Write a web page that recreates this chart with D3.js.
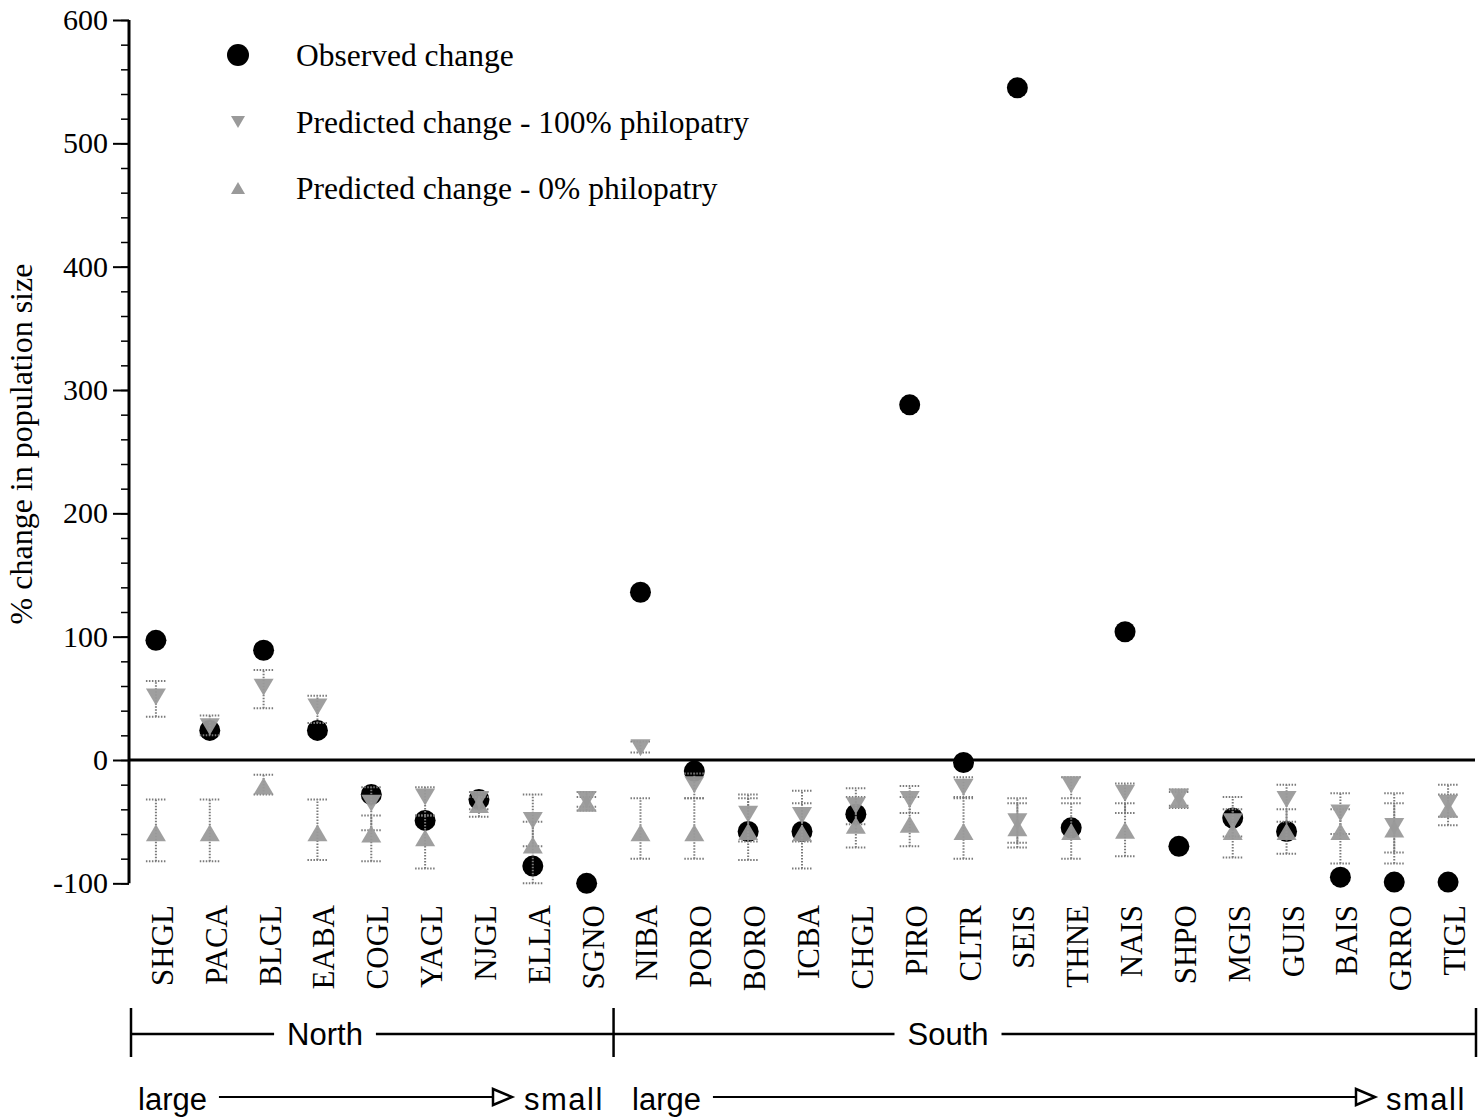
<!DOCTYPE html>
<html>
<head>
<meta charset="utf-8">
<script src="https://cdn.jsdelivr.net/npm/d3@7"></script>
<style>
  body { margin: 0; background: #fff; }
  svg { display: block; }
</style>
</head>
<body>
<div id="chart"></div>
<script>
// colonies, ordered by region and size
var categories = ["SHGL", "PACA", "BLGL", "EABA", "COGL", "YAGL", "NJGL", "ELLA", "SGNO",
                  "NIBA", "PORO", "BORO", "ICBA", "CHGL", "PIRO", "CLTR", "SEIS", "THNE",
                  "NAIS", "SHPO", "MGIS", "GUIS", "BAIS", "GRRO", "TIGL"];

var observed = [97, 24, 89, 24, -28, -49, -32, -86, -100,
                136, -9, -58, -58, -44, 288, -2, 545, -55,
                104, -70, -47, -58, -95, -99, -99];

// predicted change, 100% philopatry (mean, low, high)
var pred100   = [51, 27, 59, 43, -35, -30, -32, -49, -32,
                 10, -20, -44, -45, -37, -32, -22, -50, -20,
                 -27, -30, -50, -32, -43, -54, -35];
var pred100Lo = [35, 20, 42, 30, -57, -45, -40, -70, -38,
                 6, -31, -66, -66, -52, -43, -31, -67, -31,
                 -43, -37, -62, -50, -60, -75, -46];
var pred100Hi = [64, 36, 73, 52, -22, -22, -26, -28, -26,
                 15, -11, -28, -25, -23, -21, -14, -31, -14,
                 -19, -24, -30, -20, -27, -27, -20];

// predicted change, 0% philopatry (mean, low, high)
var pred0   = [-59, -59, -21, -59, -60, -63, -36, -69, -35,
               -59, -59, -58, -59, -53, -52, -58, -55, -58,
               -57, -32, -58, -58, -58, -56, -40];
var pred0Lo = [-82, -82, -28, -81, -82, -88, -46, -100, -41,
               -80, -80, -81, -88, -71, -70, -80, -71, -80,
               -78, -39, -79, -76, -84, -84, -53];
var pred0Hi = [-32, -32, -12, -32, -45, -45, -30, -50, -30,
               -31, -31, -31, -35, -30, -30, -30, -35, -35,
               -35, -26, -40, -40, -40, -35, -28];

var yMajor = [-100, 0, 100, 200, 300, 400, 500, 600];

var legendLabels = ["Observed change",
                    "Predicted change - 100% philopatry",
                    "Predicted change - 0% philopatry"];

var W = 1479, H = 1120;
var plotLeft = 129, plotRight = 1475, plotTop = 20, zeroY = 760;
var serif = "'Liberation Serif', 'Times New Roman', serif",
    sans = "'Liberation Sans', Arial, sans-serif";
var grey = "#9a9a9a";

var svg = d3.select("#chart").append("svg")
  .attr("width", W)
  .attr("height", H);

var x = d3.scaleBand()
  .domain(categories)
  .range([plotLeft, plotRight])
  .padding(0);

var y = d3.scaleLinear()
  .domain([-100, 600])
  .range([plotTop + (zeroY - plotTop) * 7 / 6, plotTop]);

// minor ticks
svg.append("g")
  .attr("transform", "translate(" + plotLeft + ",0)")
  .call(d3.axisLeft(y).tickValues(d3.range(-100, 601, 20)).tickSize(8).tickFormat(""))
  .call(function(g) {
    g.select(".domain").remove();
    g.selectAll("line").attr("stroke-width", 1.5);
  });

// major ticks and labels
svg.append("g")
  .attr("transform", "translate(" + plotLeft + ",0)")
  .call(d3.axisLeft(y).tickValues(yMajor).tickSize(16).tickPadding(5)
        .tickFormat(function(d) { return String(d); }))
  .call(function(g) {
    g.select(".domain").attr("stroke-width", 3).attr("d", "M0," + y(-100) + "V" + y(600));
    g.selectAll("line").attr("stroke-width", 2);
    g.selectAll("text")
      .style("font-family", serif)
      .style("font-size", "30px")
      .attr("fill", "#000");
  });

// zero line
svg.append("line")
  .attr("x1", plotLeft).attr("x2", plotRight)
  .attr("y1", y(0)).attr("y2", y(0))
  .attr("stroke", "#000")
  .attr("stroke-width", 3);

// y title
svg.append("text")
  .attr("transform", "translate(32,444) rotate(-90)")
  .attr("text-anchor", "middle")
  .style("font-family", serif)
  .style("font-size", "32px")
  .text("% change in population size");

// x labels
svg.append("g").selectAll("text")
  .data(categories)
  .enter().append("text")
  .attr("transform", function(d) {
    return "translate(" + (x(d) + x.bandwidth() / 2 + 17) + ",905) rotate(-90)";
  })
  .attr("text-anchor", "end")
  .style("font-family", serif)
  .style("font-size", "31px")
  .text(function(d) { return d; });

var cx = function(i) { return x(categories[i]) + x.bandwidth() / 2; };

function downTri(s) {
  return "M" + (-s) + "," + (-s * 0.85) + "L" + s + "," + (-s * 0.85) + "L0," + (s * 0.85) + "Z";
}
function upTri(s) {
  return "M" + (-s) + "," + (s * 0.85) + "L" + s + "," + (s * 0.85) + "L0," + (-s * 0.85) + "Z";
}

// observed change (drawn first, predicted markers sit on top)
svg.append("g").selectAll("circle")
  .data(observed)
  .enter().append("circle")
  .attr("cx", function(d, i) { return cx(i); })
  .attr("cy", function(d) { return y(d); })
  .attr("r", 10.5)
  .attr("fill", "#000");

function errorBars(lo, hi) {
  var g = svg.append("g")
    .attr("stroke", "#7a7a7a")
    .attr("stroke-width", 2)
    .attr("stroke-dasharray", "1.5,1.5")
    .attr("fill", "none");
  categories.forEach(function(c, i) {
    var xc = cx(i);
    g.append("line").attr("x1", xc).attr("x2", xc)
      .attr("y1", y(lo[i])).attr("y2", y(hi[i]));
    [lo[i], hi[i]].forEach(function(v) {
      g.append("line").attr("x1", xc - 10).attr("x2", xc + 10)
        .attr("y1", y(v)).attr("y2", y(v));
    });
  });
}

errorBars(pred100Lo, pred100Hi);
errorBars(pred0Lo, pred0Hi);

svg.append("g").selectAll("path")
  .data(pred100)
  .enter().append("path")
  .attr("transform", function(d, i) { return "translate(" + cx(i) + "," + y(d) + ")"; })
  .attr("d", downTri(10))
  .attr("fill", grey)
  .attr("opacity", 0.95);

svg.append("g").selectAll("path")
  .data(pred0)
  .enter().append("path")
  .attr("transform", function(d, i) { return "translate(" + cx(i) + "," + y(d) + ")"; })
  .attr("d", upTri(10))
  .attr("fill", grey)
  .attr("opacity", 0.95);

// legend
var legend = svg.append("g");
var legendY = [55, 122, 188];
legend.append("circle").attr("cx", 238).attr("cy", legendY[0]).attr("r", 11).attr("fill", "#000");
legend.append("path").attr("transform", "translate(238," + legendY[1] + ")").attr("d", downTri(7)).attr("fill", grey);
legend.append("path").attr("transform", "translate(238," + legendY[2] + ")").attr("d", upTri(7)).attr("fill", grey);
legend.selectAll("text")
  .data(legendLabels)
  .enter().append("text")
  .attr("x", 296)
  .attr("y", function(d, i) { return legendY[i]; })
  .attr("dy", "0.35em")
  .style("font-family", serif)
  .style("font-size", "31.5px")
  .text(function(d) { return d; });

// region bracket
var bracketY = 1034;
var regions = [
  {name: "North", x0: x("SHGL") + 2, x1: x("NIBA"), tx: 325},
  {name: "South", x0: x("NIBA"), x1: plotRight + 1, tx: 948}
];
var bg = svg.append("g").attr("stroke", "#000").attr("stroke-width", 2.5);
[regions[0].x0, regions[1].x0, regions[1].x1].forEach(function(v) {
  bg.append("line").attr("x1", v).attr("x2", v).attr("y1", 1008).attr("y2", 1057);
});
regions.forEach(function(r) {
  var t = svg.append("text")
    .attr("x", r.tx).attr("y", bracketY + 11)
    .attr("text-anchor", "middle")
    .style("font-family", sans)
    .style("font-size", "31px")
    .text(r.name);
  var half = t.node().getComputedTextLength() / 2 + 13;
  bg.append("line").attr("x1", r.x0).attr("x2", r.tx - half).attr("y1", bracketY).attr("y2", bracketY);
  bg.append("line").attr("x1", r.tx + half).attr("x2", r.x1).attr("y1", bracketY).attr("y2", bracketY);
});

// size arrows
var arrowY = 1097;
var arrows = [{x0: 138, x1: 512, sx: 524}, {x0: 632, x1: 1375, sx: 1386}];
arrows.forEach(function(a) {
  var lg = svg.append("text")
    .attr("x", a.x0).attr("y", 1110)
    .style("font-family", sans)
    .style("font-size", "31px")
    .text("large");
  var lx = a.x0 + lg.node().getComputedTextLength() + 12;
  svg.append("line")
    .attr("x1", lx).attr("x2", a.x1 - 18)
    .attr("y1", arrowY).attr("y2", arrowY)
    .attr("stroke", "#000").attr("stroke-width", 2);
  svg.append("path")
    .attr("d", "M" + (a.x1 - 19) + "," + (arrowY - 8) + "L" + a.x1 + "," + arrowY + "L" + (a.x1 - 19) + "," + (arrowY + 8) + "Z")
    .attr("fill", "#fff").attr("stroke", "#000").attr("stroke-width", 2.5);
  svg.append("text")
    .attr("x", a.sx).attr("y", 1110)
    .style("font-family", sans)
    .style("font-size", "31px")
    .style("letter-spacing", "1.5px")
    .text("small");
});
</script>
</body>
</html>
